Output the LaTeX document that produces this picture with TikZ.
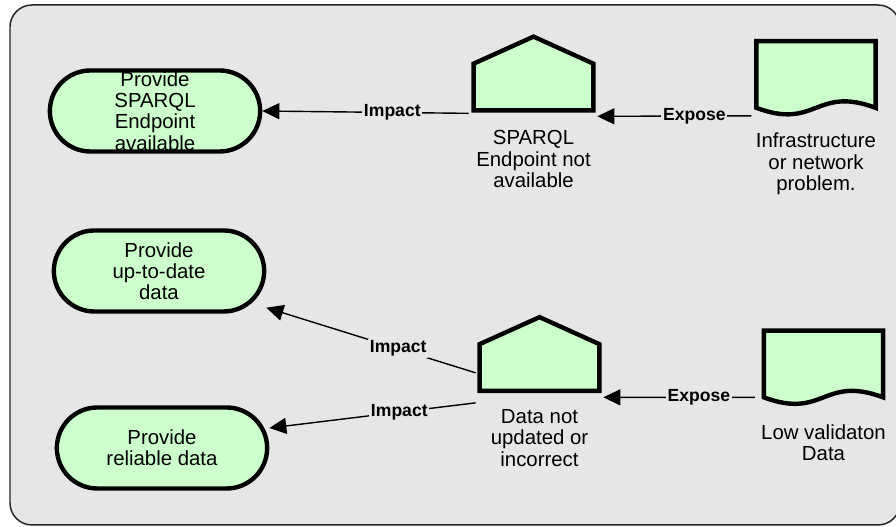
\documentclass[tikz,border=0pt]{standalone}
\usepackage{fontspec}
\setmainfont{Liberation Sans}
\usepackage{tikz}
\usetikzlibrary{shapes.misc,positioning,arrows.meta,calc}
\definecolor{panelgray}{HTML}{E6E6E6}
\definecolor{mintgreen}{HTML}{CCFFCC}

\begin{document}
\begin{tikzpicture}[
  goal/.style={rounded rectangle, draw, line width=2.5pt, fill=mintgreen, minimum width=4.44cm, minimum height=1.62cm, inner ysep=0pt, align=center, font=\fontsize{11.6}{12.1}\selectfont},
  body/.style={minimum width=2.38cm, minimum height=0.92cm, inner sep=0pt},
  sheet/.style={minimum width=2.37cm, minimum height=1.32cm, inner sep=0pt},
  outline/.style={draw, line width=2.5pt, fill=mintgreen},
  caption/.style={align=center, inner sep=0pt, font=\fontsize{11.6}{12.1}\selectfont},
  link/.style={-{Triangle[length=0.34cm,width=0.32cm]}, line width=0.8pt},
  tag/.style={fill=panelgray, font=\bfseries\fontsize{10}{12}\selectfont, inner xsep=1pt, inner ysep=1pt, pos=0.37}
]
  \useasboundingbox (0,0) rectangle (17.92,10.54);
  \draw[fill=panelgray, draw=black!85, line width=0.85pt, rounded corners=0.44cm] (0.2,0.04) rectangle (18.0,10.44);

  % goals
  \node[goal, inner ysep=-5pt] (goal1) at (3.10,8.32) {Provide\\SPARQL\\Endpoint\\available};
  \node[goal] (goal2) at (3.18,5.12) {Provide\\up-to-date\\data};
  \node[goal] (goal3) at (3.24,1.58) {Provide\\reliable data};

  % risks
  \node[body] (risk1) at (10.67,8.80) {};
  \node[body] (risk2) at (10.79,3.19) {};
  \foreach \r in {risk1,risk2}
    \draw[outline] (\r.south west) -- (\r.north west) -- ([yshift=0.54cm]\r.north) -- (\r.north east) -- (\r.south east) -- cycle;
  \node[caption, below=0.40cm of risk1] (risk1txt) {SPARQL\\Endpoint not\\available};
  \node[caption, below=0.37cm of risk2] (risk2txt) {Data not\\updated or\\incorrect};

  % causes
  \node[sheet] (doc1) at (16.32,9.05) {};
  \node[sheet] (doc2) at (16.47,3.26) {};
  \foreach \d in {doc1,doc2}
    \draw[outline] (\d.south west) -- (\d.north west) -- (\d.north east) -- (\d.south east) .. controls +(-1.2,0.45) and +(1.2,-0.45) .. (\d.south west) -- cycle;
  \node[caption, below=0.50cm of doc1] (doc1txt) {Infrastructure\\or network\\problem.};
  \node[caption, below=0.54cm of doc2] (doc2txt) {Low validaton\\Data};

  % links
  \draw[link] ([xshift=-0.1cm,yshift=-0.16cm]doc1.south west) -- node[tag] {Expose} ([xshift=0.08cm,yshift=-0.12cm]risk1.south east);
  \draw[link] ([xshift=-0.1cm,yshift=-0.06cm]risk1.south west) -- node[tag] {Impact} (goal1.east);
  \draw[link] ([xshift=-0.18cm]doc2.south west) -- node[tag] {Expose} ([xshift=0.08cm,yshift=-0.13cm]risk2.south east);
  \draw[link] ([xshift=-0.08cm,yshift=0.36cm]risk2.south west) -- node[tag] {Impact} ($(goal2.east |- goal2.south)+(0,0.12)$);
  \draw[link] ([xshift=-0.08cm,yshift=-0.24cm]risk2.south west) -- node[tag] {Impact} ([yshift=0.4cm]goal3.east);
\end{tikzpicture}
\end{document}
